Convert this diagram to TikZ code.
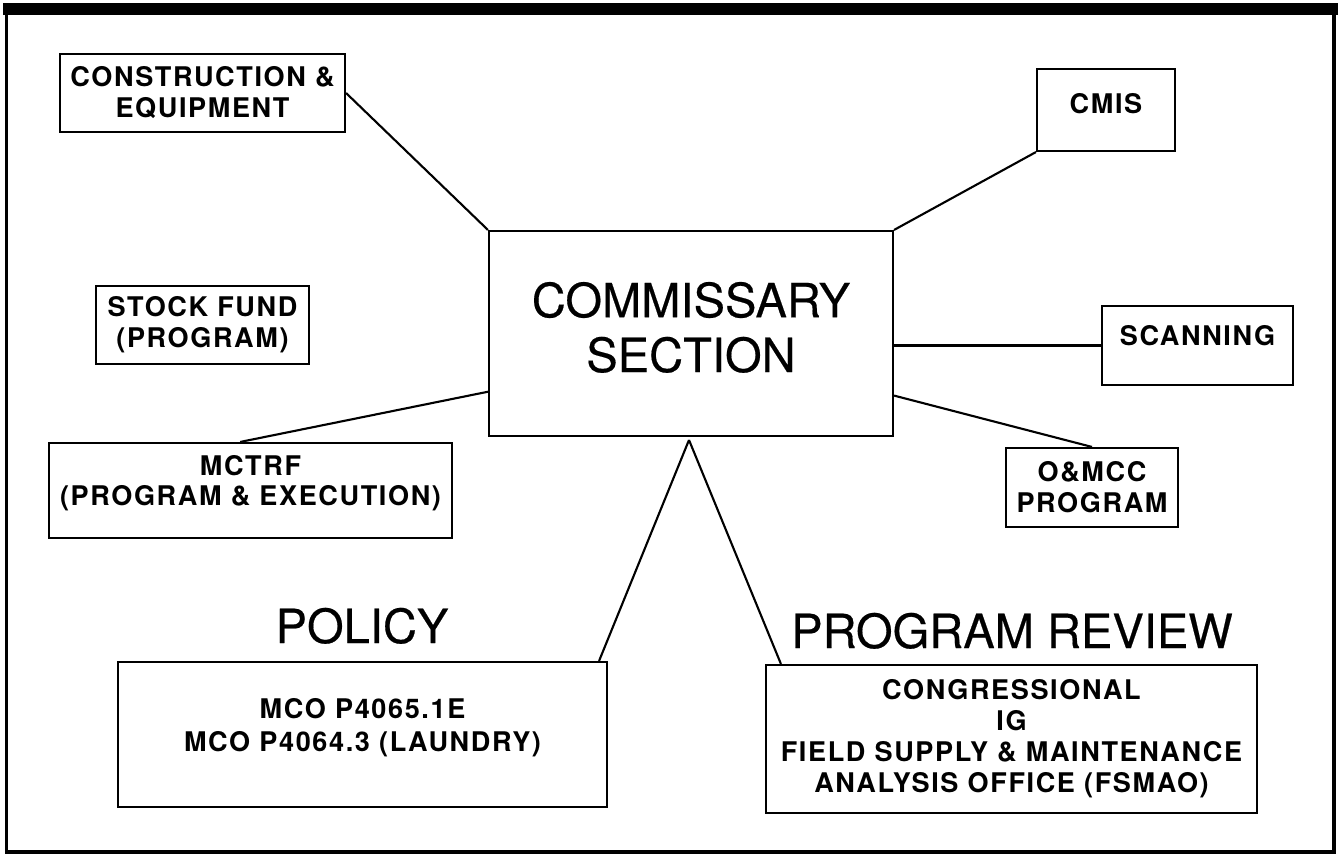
\documentclass[tikz,border=0pt]{standalone}
\usepackage{fontspec}
\setmainfont{TeX Gyre Heros}
\newfontfamily\boxfont[LetterSpace=6]{TeX Gyre Heros}
\newfontfamily\headfont[FakeBold=0.4]{TeX Gyre Heros}
\tikzstyle{bx}=[draw, line width=0.6pt, inner sep=0pt, align=center, font=\boxfont\bfseries\fontsize{7.7}{8.8}\selectfont]
\tikzstyle{hd}=[inner sep=0pt, align=center, font=\headfont\fontsize{13.4}{15.6}\selectfont]
\tikzstyle{ln}=[line width=0.6pt]

\begin{document}
\begin{tikzpicture}
\useasboundingbox (0,0) rectangle (13.44,-8.57);

% frame
\fill (0.03,-0.03) rectangle (13.38,-0.15);
\draw [line width=0.9pt] (0.065,-0.1) -- (0.065,-8.52) -- (13.34,-8.52) -- (13.34,-0.1);

\draw (6.91,-3.335) node [bx, hd, draw, line width=0.6pt, minimum width=4.04cm, minimum height=2.05cm, text depth=0.13cm] (centre) {COMMISSARY\\SECTION};

\draw (2.025,-0.93) node [bx, minimum width=2.85cm, minimum height=0.78cm] (cons) {CONSTRUCTION \&\\EQUIPMENT};
\draw (11.06,-1.10) node [bx, minimum width=1.38cm, minimum height=0.82cm, text depth=0.14cm] (cmis) {CMIS};
\draw (2.025,-3.25) node [bx, minimum width=2.13cm, minimum height=0.78cm] (stock) {STOCK FUND\\(PROGRAM)};
\draw (11.975,-3.455) node [bx, minimum width=1.91cm, minimum height=0.79cm, text depth=0.21cm] (scan) {SCANNING};
\draw (2.505,-4.905) node [bx, minimum width=4.03cm, minimum height=0.95cm, text depth=0.2cm] (mctrf) {MCTRF\\(PROGRAM \& EXECUTION)};
\draw (10.92,-4.875) node [bx, minimum width=1.72cm, minimum height=0.79cm] (omcc) {O\&MCC\\PROGRAM};

\draw (3.625,-7.345) node [bx, font=\boxfont\bfseries\fontsize{7.7}{9.6}\selectfont, minimum width=4.89cm, minimum height=1.45cm, text depth=0.19cm] (policy) {MCO P4065.1E\\MCO P4064.3 (LAUNDRY)};
\draw (10.115,-7.39) node [bx, minimum width=4.91cm, minimum height=1.48cm] (review) {CONGRESSIONAL\\IG\\FIELD SUPPLY \& MAINTENANCE\\ANALYSIS OFFICE (FSMAO)};

\draw (3.62,-6.43) node [hd, anchor=base] (polhead) {POLICY};
\draw (10.12,-6.48) node [hd, anchor=base] (revhead) {PROGRAM REVIEW};

\coordinate (apex) at (6.89,-4.40);

\draw [ln] (cons.east) -- (centre.north west);
\draw [ln] (cmis.south west) -- (centre.north east);
\draw [ln] (scan.west) -- (scan.west -| centre.east);
\draw [ln] (centre.-17.5) -- (omcc.north);
\draw [ln] (centre.196.5) -- (mctrf.102.5);
\draw [ln] (apex) -- ([xshift=-0.09cm]policy.north east);
\draw [ln] (apex) -- ([xshift=0.16cm]review.north west);

\end{tikzpicture}
\end{document}
